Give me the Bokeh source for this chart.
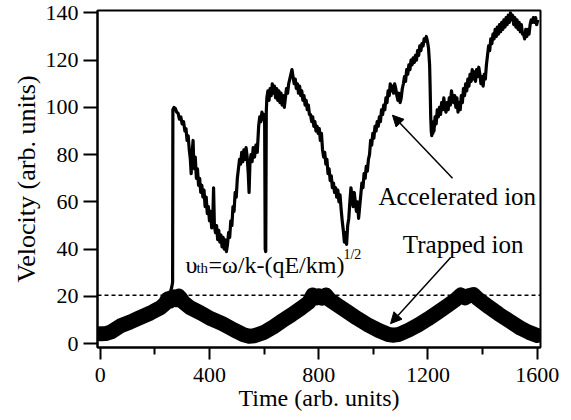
from bokeh.plotting import figure
from bokeh.models import Range1d, FixedTicker, Label, Arrow, NormalHead, Span
from bokeh.embed import file_html
from bokeh.resources import INLINE

# ---------------- data ----------------
x_ticks = [0, 400, 800, 1200, 1600]
x_minor = [200, 600, 1000, 1400]
y_ticks = [0, 20, 40, 60, 80, 100, 120, 140]
x_title = "Time (arb. units)"
y_title = "Velocity (arb. units)"

v_th = 20.5  # dashed threshold velocity

# trapped ion (thick band, centre line)
trap_t = [0, 20, 40, 75, 110, 137, 160, 184, 205, 221, 238, 247, 255, 262, 269, 278,
          287, 295, 305, 330, 368, 405, 447, 490, 525, 545, 565, 600, 635, 668, 700,
          735, 763, 778, 790, 800, 812, 826, 840, 870, 905, 940, 980, 1020, 1055, 1075,
          1095, 1130, 1165, 1200, 1235, 1270, 1300, 1320, 1335, 1349, 1367, 1385, 1420,
          1460, 1500, 1540, 1570, 1600]
trap_v = [4.2, 4.3, 5.0, 7.6, 9.2, 10.6, 11.8, 13.0, 14.3, 15.3, 17.0, 19.0, 18.0, 19.5, 19.8, 18.6,
          20.2, 19.2, 17.5, 15.2, 13.0, 10.6, 8.5, 5.8, 3.8, 3.2, 3.4, 4.8, 7.2, 9.8, 12.2,
          15.0, 17.4, 20.6, 19.4, 20.2, 19.3, 20.6, 18.6, 16.2, 13.5, 10.8, 8.0, 5.6, 3.9, 3.6,
          4.0, 5.8, 8.0, 10.5, 13.2, 16.0, 18.5, 20.6, 19.4, 20.3, 20.8, 18.8, 15.8,
          12.5, 9.5, 6.5, 4.8, 3.5]

# accelerated ion
acc_t = [240, 255, 262, 265, 266, 270, 275, 280, 285, 290, 295, 300, 305, 310, 314, 318,
         322, 326, 330, 333, 336, 340, 342, 345, 348, 352, 356, 360, 364, 368, 372, 376,
         380, 384, 388, 392, 396, 400, 404, 408, 412, 415, 418, 422, 426, 430, 434, 438,
         442, 446, 450, 454, 458, 462, 466, 470, 474, 478, 482, 486, 490, 494, 498, 502,
         506, 510, 514, 518, 522, 526, 530, 534, 538, 542, 545, 548, 552, 556, 560, 565,
         570, 575, 580, 584, 588, 592, 596, 600, 602, 604, 606, 608, 610, 614, 618, 622,
         626, 630, 634, 638, 642, 646, 650, 654, 658, 662, 666, 670, 674, 678, 682, 686,
         690, 694, 698, 702, 706, 710, 714, 718, 722, 726, 730, 734, 738, 742, 746, 750,
         754, 758, 762, 766, 770, 774, 778, 782, 786, 790, 794, 798, 802, 806, 810, 814,
         818, 822, 826, 830, 834, 838, 842, 846, 850, 854, 858, 862, 866, 870, 874, 878,
         882, 886, 890, 894, 898, 902, 906, 910, 914, 918, 922, 926, 930, 934, 938, 942,
         946, 950, 954, 958, 962, 966, 970, 974, 978, 982, 986, 990, 994, 998, 1002, 1006,
         1010, 1014, 1018, 1022, 1026, 1030, 1034, 1038, 1042, 1046, 1050, 1054, 1058, 1062,
         1066, 1070, 1074, 1078, 1082, 1086, 1090, 1094, 1098, 1102, 1106, 1110, 1114, 1118,
         1122, 1126, 1130, 1134, 1138, 1142, 1146, 1150, 1154, 1158, 1162, 1166, 1170, 1174,
         1178, 1182, 1186, 1190, 1194, 1198, 1202, 1206, 1208, 1210, 1212, 1214, 1216, 1218,
         1220, 1222, 1226, 1230, 1234, 1238, 1242, 1246, 1250, 1254, 1258, 1262, 1266, 1270,
         1274, 1278, 1282, 1286, 1290, 1294, 1298, 1302, 1306, 1310, 1314, 1318, 1322, 1326,
         1330, 1334, 1338, 1342, 1346, 1350, 1354, 1358, 1362, 1366, 1370, 1374, 1378, 1382,
         1386, 1390, 1394, 1398, 1402, 1406, 1410, 1414, 1418, 1422, 1426, 1430, 1434, 1438,
         1442, 1446, 1450, 1454, 1458, 1462, 1466, 1470, 1474, 1478, 1482, 1486, 1490, 1494,
         1498, 1502, 1506, 1510, 1514, 1518, 1522, 1526, 1530, 1534, 1538, 1542, 1546, 1550,
         1554, 1558, 1562, 1566, 1570, 1574, 1578, 1582, 1586, 1590, 1594, 1598, 1602]
acc_v = [19.5, 21, 24, 26, 99, 100, 99.5, 98, 97.5, 95, 96, 93, 94, 90, 91, 86,
         88, 82, 78, 72, 80, 86, 78, 74, 79, 70, 74, 67, 70, 64, 67, 62,
         65, 58, 62, 55, 58, 52, 56, 49, 52, 66, 50, 47, 50, 44, 48, 43,
         46, 41, 45, 40, 44, 39, 42, 47, 45, 52, 50, 58, 56, 64, 62, 70,
         74, 78, 76, 81, 77, 82, 78, 83, 79, 72, 64, 76, 80, 77, 83, 79,
         84, 81, 92, 96, 94, 98, 95, 97, 93, 40, 39, 98, 104, 107, 103, 108,
         105, 110, 106, 109, 104, 108, 103, 107, 102, 106, 101, 105, 100, 104, 108, 106,
         110, 112, 114, 116, 113, 110, 112, 108, 110, 106, 109, 105, 107, 103, 105, 101,
         103, 99, 101, 97, 97, 94, 96, 92, 94, 90, 92, 89, 91, 86, 89, 82,
         79, 81, 76, 78, 72, 74, 69, 71, 66, 68, 64, 66, 62, 65, 60, 63,
         57, 52, 48, 43, 47, 42, 50, 53, 60, 66, 62, 58, 64, 60, 56, 60,
         53, 58, 63, 68, 66, 72, 70, 75, 73, 78, 80, 86, 84, 89, 87, 92,
         90, 94, 92, 96, 94, 99, 97, 101, 99, 104, 102, 107, 105, 110,
         107, 109, 106, 110, 108, 105, 103, 106, 102, 104, 108, 110, 113, 111,
         116, 114, 118, 116, 120, 118, 121, 119, 122, 120, 124, 122, 126, 124,
         127, 126, 129, 128, 130, 128, 125, 118, 108, 96, 90, 88, 92, 89,
         94, 90, 96, 93, 99, 96, 100, 97, 102, 99, 104, 100, 98, 102,
         99, 104, 101, 107, 104, 102, 105, 100, 104, 98, 102, 99, 105, 102,
         108, 105, 110, 107, 112, 109, 114, 111, 116, 112, 115, 111, 116, 113,
         117, 114, 110, 113, 109, 114, 112, 118, 122, 126, 124, 129, 127, 131,
         129, 133, 130, 134, 131, 135, 132, 136, 133, 137, 134, 138, 135, 139,
         136, 140, 137, 139, 135, 138, 134, 137, 133, 136, 132, 135, 131, 131,
         129, 133, 130, 133, 131, 135, 137, 136, 138, 136, 138, 135, 137]

FONT = "serif"
AXFONT = "serif"

p = figure(width=571, height=420, output_backend="svg", toolbar_location=None,
           x_range=Range1d(-10, 1612), y_range=Range1d(-1.6, 141),
           min_border_left=97, min_border_right=31, min_border_top=10, min_border_bottom=73)
p.grid.visible = False
p.outline_line_color = "black"
p.outline_line_width = 2
p.outline_line_alpha = 1.0
p.background_fill_color = "white"
p.border_fill_color = "white"

p.add_layout(Span(location=v_th, dimension="width", line_color="black", line_width=1.3,
                  line_dash="4 3", level="underlay"))

p.line(trap_t, trap_v, line_width=15, line_color="black", line_join="round", line_cap="round")
p.line(acc_t, acc_v, line_width=3.2, line_color="black", line_join="round")

xa = p.xaxis[0]
ya = p.yaxis[0]
xa.ticker = FixedTicker(ticks=x_ticks, minor_ticks=x_minor)
ya.ticker = FixedTicker(ticks=y_ticks, minor_ticks=[])
for ax in (xa, ya):
    ax.axis_line_width = 2
    ax.axis_line_color = "black"
    ax.major_tick_line_width = 2
    ax.major_tick_line_color = "black"
    ax.minor_tick_line_width = 2
    ax.minor_tick_line_color = "black"
    ax.major_tick_in = 0
    ax.minor_tick_in = 0
    ax.major_label_text_font = AXFONT
    ax.major_label_text_font_size = "22px"
    ax.major_label_text_color = "black"
    ax.axis_label_text_font = AXFONT
    ax.axis_label_text_font_style = "normal"
    ax.axis_label_text_color = "black"
xa.major_tick_out = 12
xa.minor_tick_out = 7
xa.major_label_standoff = 8
xa.axis_label = x_title
xa.axis_label_text_font_size = "24px"
xa.axis_label_standoff = 0
ya.major_tick_out = 14
ya.major_label_standoff = 5
ya.axis_label = y_title
ya.axis_label_text_font_size = "26px"
ya.axis_label_standoff = 2

DY = 8  # baseline correction in px

def lab(text, x, y, size, dx=0, dy=0):
    p.add_layout(Label(x=x, y=y, x_offset=dx, y_offset=dy + DY, text=text, text_font=FONT,
                       text_font_size=size, text_color="black",
                       text_baseline="alphabetic", text_align="left"))

lab("Accelerated ion", 1019, 59, "25px")
lab("Trapped ion", 1108, 38.6, "25px")
# v_th = omega/k - (qE/km)^(1/2)
lab("\u03c5", 312, 30.1, "24px")
lab("th", 312, 30.1, "15px", dx=11, dy=-3)
lab("=\u03c9/k-(qE/km)", 312, 30.1, "24px", dx=23)
lab("1/2", 312, 30.1, "14px", dx=158, dy=10)

p.add_layout(Arrow(end=NormalHead(size=11, fill_color="black", line_color="black"),
                   x_start=1290, y_start=70, x_end=1070, y_end=96.7,
                   line_width=1.5, line_color="black"))
p.add_layout(Arrow(end=NormalHead(size=11, fill_color="black", line_color="black"),
                   x_start=1283, y_start=36.5, x_end=1063, y_end=8.5,
                   line_width=1.5, line_color="black"))

open("out.html", "w").write(file_html(p, INLINE))
